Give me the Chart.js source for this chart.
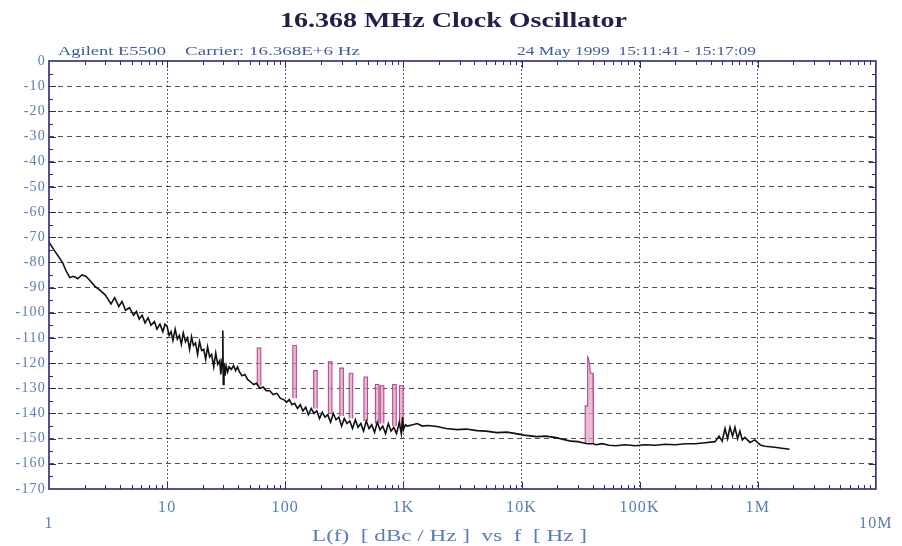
<!DOCTYPE html>
<html>
<head>
<meta charset="utf-8">
<title>16.368 MHz Clock Oscillator</title>
<script src="https://cdn.jsdelivr.net/npm/chart.js@4/dist/chart.umd.min.js"></script>
<style>
  html, body { margin: 0; padding: 0; background: #fff; }
  #wrap { width: 902px; height: 546px; }
</style>
</head>
<body>
<div id="wrap"><canvas id="noise" width="902" height="546"></canvas></div>
<script>
// offset frequency (Hz) and L(f) (dBc/Hz)
const noiseFreq = [
  1, 1.12, 1.3, 1.4, 1.5, 1.62, 1.75, 1.9, 2.05, 2.2, 2.45, 2.7, 3.0, 3.35, 3.6, 3.9, 4.15, 4.45, 4.8, 5.2,
  5.5, 5.8, 6.15, 6.5, 6.9, 7.3, 7.8, 8.2, 8.7, 9.2, 9.6,
  10, 10.4, 10.8, 11.2, 11.7, 12.2, 12.7, 13.2, 13.7, 14.3, 14.9, 15.5, 16.1, 16.7, 17.4, 18.1, 18.8, 19.6, 20.4, 21.2,
  22, 22.9, 23.8, 24.8, 25.8, 26.8, 27.9, 28.5, 29.2, 29.6, 29.9, 30.3, 30.9, 31.6, 32.5, 33.5, 35, 36.5, 38, 39.5,
  41, 43, 45.5, 48, 51, 54, 57, 61, 65, 69, 74, 79, 85, 91, 97, 103, 108, 114, 120, 127,
  134, 141, 149, 157, 166, 175, 185, 195, 206, 217, 229, 242, 255, 269, 284, 300, 316, 333, 352, 371,
  392, 413, 436, 460, 485, 512, 540, 570, 601, 634, 669, 706, 745, 786, 829, 875, 923, 960, 985, 1000,
  1040, 1080, 1200, 1310, 1450, 1600, 1930, 2300, 2850, 3400, 4200, 5000, 6200, 7500, 9000, 10500, 13400, 16000, 19700, 23000,
  26300, 30000, 33000, 36000, 40500, 42700, 48000, 55000, 62800, 75000, 92500, 110000, 136000, 165000, 201000, 245000, 296000, 359000, 435000, 470000,
  500000, 528000, 555000, 582000, 612000, 641000, 675000, 706000, 740000, 778000, 860000, 944000, 1050000, 1150000, 1390000, 1600000, 1860000
];
const noiseLevel = [
  -72, -75.5, -80, -83.5, -86, -85.5, -86.5, -85, -85.5, -87, -89.5, -91, -93, -96.5, -94, -97.5, -95.5, -99, -98, -101,
  -99.5, -102.5, -101, -104, -102, -105, -103.5, -106.5, -104.5, -107.5, -104.5,
  -105.5, -109, -107.5, -111, -106.5, -110.5, -109, -112.5, -108, -111.5, -110, -114.5, -109.5, -113, -112, -116.5, -111.5, -115, -114.5, -118.5,
  -113.5, -117.5, -116.5, -121.5, -116, -120.5, -119, -124.5, -118.5, -107, -128.5, -120, -125, -121, -123.5, -121.5, -122.5, -121, -123, -121.5,
  -123.5, -125, -124.5, -126.5, -127.5, -128.5, -128, -130, -129.5, -131, -131, -132.5, -132, -134, -134.5, -135.5, -134.5, -136.5, -136, -138,
  -136.5, -139, -137.5, -140.5, -138, -140, -139, -142, -139.5, -141.5, -140.5, -143.5, -140, -142.5, -141.5, -145, -142, -144, -143, -146,
  -142.5, -145.5, -144, -147, -143, -146, -144.5, -147.5, -143.5, -146.5, -145, -148, -144, -147, -145.5, -148, -143.5, -148, -141.5, -146.5,
  -144.5, -145, -144.5, -144, -145, -144.8, -145.2, -146, -146.4, -146.2, -146.8, -147, -147.6, -147.4, -148, -148.6, -149.2, -149, -149.6, -150.4,
  -151, -151.2, -151.6, -152, -152, -152.4, -152, -152.6, -152.8, -152.4, -152.8, -152.4, -152.6, -152.2, -152.4, -152, -152, -151.6, -151.2, -149,
  -151, -146, -150, -145.5, -149, -145.5, -150, -147, -150.5, -149.5, -151.5, -150.5, -152.5, -153, -153.4, -153.8, -154.2
];

// mains related spurs (pink), peak and the floor they stand on
const spurFreq = [60, 120, 180, 240, 300, 360, 480, 600, 660, 840, 960];
const spurTop  = [-114, -113, -123, -119.5, -122, -124, -125.5, -128.5, -129, -128.5, -129];
const spurBase = [-129, -134, -138, -140, -141, -142, -143, -144, -144, -145, -145];

// spur near 37 kHz, outline of its shape
const bigSpurFreq  = [34500, 34600, 35900, 36300, 36900, 37800, 38300, 40300, 40600];
const bigSpurLevel = [-151.5, -137, -137, -117.5, -118, -121, -124, -124, -151.8];

const xTickValues = [1, 10, 100, 1e3, 1e4, 1e5, 1e6, 1e7];
const xTickLabels = ['1', '10', '100', '1K', '10K', '100K', '1M', '10M'];

const titleText = '16.368 MHz Clock Oscillator';
const headerInstrument = 'Agilent E5500';
const headerCarrier = 'Carrier: 16.368E+6 Hz';
const headerDate = '24 May 1999  15:11:41 - 15:17:09';
const axisTitle = 'L(f)  [ dBc / Hz ]  vs  f  [ Hz ]';

const FRAME = '#2b2b72';
const LABEL = '#5a7cb2';
const SERIF = '"Liberation Serif", "DejaVu Serif", serif';

const noisePoints = noiseFreq.map((f, i) => ({ x: f, y: noiseLevel[i] }));

const spurPoints = [];
spurFreq.forEach((f, i) => {
    spurPoints.push({ x: f / 1.035, y: spurBase[i] });
    spurPoints.push({ x: f / 1.035, y: spurTop[i] });
    spurPoints.push({ x: f * 1.035, y: spurTop[i] });
    spurPoints.push({ x: f * 1.035, y: spurBase[i] });
    spurPoints.push({ x: f, y: null }); // break the line between spurs
});
bigSpurFreq.forEach((f, i) => spurPoints.push({ x: f, y: bigSpurLevel[i] }));

// text squeezed/stretched to the width it takes in the original
function fitText(ctx, text, x0, x1, y, font, color) {
    ctx.save();
    ctx.letterSpacing = '0px';
    ctx.font = font;
    ctx.fillStyle = color;
    ctx.textAlign = 'left';
    ctx.textBaseline = 'alphabetic';
    const w = ctx.measureText(text).width;
    ctx.translate(x0, y);
    ctx.scale((x1 - x0) / w, 1);
    ctx.fillText(text, 0, 0);
    ctx.restore();
}

const framePlugin = {
    id: 'frame',
    beforeDraw(chart) {
        chart.ctx.letterSpacing = '1.2px'; // wide tick labels like the original
    },
    afterDatasetsDraw(chart) {
        const { ctx, chartArea: a, scales } = chart;
        const xs = scales.x, ys = scales.y;
        ctx.save();
        ctx.strokeStyle = FRAME;
        ctx.lineWidth = 1;
        ctx.beginPath();
        // y ticks every 5 dB, both sides
        for (let v = -165; v < 0; v += 5) {
            const py = Math.round(ys.getPixelForValue(v)) + 0.5;
            const len = v % 10 === 0 ? 7 : 4;
            ctx.moveTo(a.left, py); ctx.lineTo(a.left + len, py);
            ctx.moveTo(a.right, py); ctx.lineTo(a.right - len, py);
        }
        // x ticks, decades and 2..9
        for (let d = 1; d < 1e7; d *= 10) {
            for (let m = 1; m < 10; m++) {
                const v = d * m;
                if (v <= 1) continue;
                const px = Math.round(xs.getPixelForValue(v)) + 0.5;
                const len = m === 1 ? 7 : 4;
                ctx.moveTo(px, a.bottom); ctx.lineTo(px, a.bottom - len);
                ctx.moveTo(px, a.top); ctx.lineTo(px, a.top + len);
            }
        }
        ctx.stroke();
        ctx.lineWidth = 1.6;
        ctx.strokeRect(a.left, a.top, a.right - a.left, a.bottom - a.top);
        ctx.restore();
    },
    afterDraw(chart) {
        const { ctx } = chart;
        fitText(ctx, titleText, 280, 627, 27, 'bold 22px ' + SERIF, '#20204a');
        fitText(ctx, headerInstrument, 58, 166, 55, '13px ' + SERIF, '#3d5c9c');
        fitText(ctx, headerCarrier, 185, 360, 55, '13px ' + SERIF, '#3d5c9c');
        fitText(ctx, headerDate, 517, 756, 55, '13px ' + SERIF, '#3d5c9c');
        fitText(ctx, axisTitle, 312, 587, 541, '17px ' + SERIF, LABEL);
        ctx.letterSpacing = '0px';
    }
};

new Chart(document.getElementById('noise'), {
    type: 'line',
    data: {
        datasets: [{
            label: 'L(f)',
            data: noisePoints,
            borderColor: '#111111',
            borderWidth: 1.6,
            pointRadius: 0,
            fill: false,
            tension: 0
        }, {
            label: 'spurs',
            data: spurPoints,
            borderColor: '#b84a8a',
            backgroundColor: 'rgba(222, 160, 198, 0.7)',
            borderWidth: 1.1,
            pointRadius: 0,
            fill: 'shape',
            spanGaps: false,
            tension: 0
        }]
    },
    options: {
        responsive: false,
        animation: false,
        devicePixelRatio: 1,
        layout: { padding: { left: 0, right: 20, top: 61, bottom: 0 } },
        plugins: {
            legend: { display: false },
            tooltip: { enabled: false },
            title: { display: false }
        },
        scales: {
            x: {
                type: 'logarithmic',
                min: 1,
                max: 1e7,
                afterBuildTicks: function(axis) {
                    axis.ticks = xTickValues.map(v => ({ value: v }));
                },
                afterFit: function(axis) {
                    axis.height = 57;
                },
                border: { display: false, dash: [2, 2] },
                grid: {
                    drawTicks: false,
                    color: (c) => (c.index === 0 || c.index === xTickValues.length - 1) ? 'rgba(0,0,0,0)' : '#55558a',
                    lineWidth: 1
                },
                ticks: {
                    autoSkip: false,
                    maxRotation: 0,
                    padding: 11,
                    color: LABEL,
                    font: { family: SERIF, size: 16, lineHeight: 1 },
                    callback: function(val, index) {
                        const label = xTickLabels[index];
                        // the end labels sit one line lower
                        if (index === 0 || index === xTickLabels.length - 1) return ['', label];
                        return label;
                    }
                }
            },
            y: {
                min: -170,
                max: 0,
                afterFit: function(axis) {
                    axis.width = 49;
                },
                border: { display: false, dash: [5, 4] },
                grid: {
                    drawTicks: false,
                    color: (c) => (c.tick.value === 0 || c.tick.value === -170) ? 'rgba(0,0,0,0)' : '#50505e',
                    lineWidth: 1
                },
                ticks: {
                    stepSize: 10,
                    padding: 3,
                    color: LABEL,
                    font: { family: SERIF, size: 14 },
                    callback: function(value) {
                        return String(value);
                    }
                }
            }
        }
    },
    plugins: [framePlugin]
});
</script>
</body>
</html>
